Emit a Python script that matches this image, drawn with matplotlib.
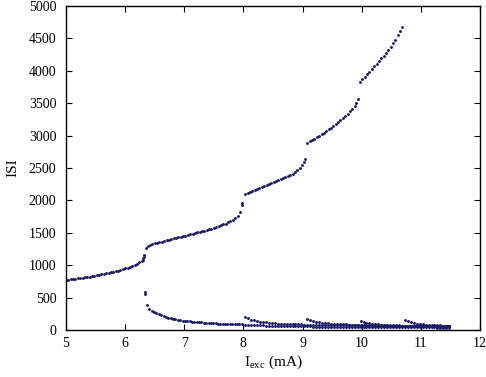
import numpy as np
import matplotlib
matplotlib.use("Agg")
from matplotlib import pyplot as plt

# Upper branch (inter-burst interval)
I_up = [5.00, 5.04, 5.08, 5.12, 5.16, 5.20, 5.24, 5.28, 5.32, 5.36,
        5.40, 5.44, 5.48, 5.52, 5.56, 5.60, 5.64, 5.68, 5.72, 5.76,
        5.80, 5.84, 5.88, 5.92, 5.96, 6.00, 6.04, 6.08, 6.12, 6.16,
        6.20, 6.24, 6.28, 6.31, 6.31, 6.32, 6.32,
        6.35, 6.38, 6.42, 6.46, 6.50, 6.54, 6.58, 6.62, 6.66, 6.70,
        6.74, 6.78, 6.82, 6.86, 6.90, 6.94, 6.98, 7.02, 7.06, 7.10,
        7.14, 7.18, 7.22, 7.26, 7.30, 7.34, 7.38, 7.42, 7.46, 7.50,
        7.54, 7.58, 7.62, 7.66, 7.70, 7.74, 7.78, 7.82, 7.86, 7.90,
        7.94, 7.97, 7.98,
        8.03, 8.07, 8.11, 8.15, 8.19, 8.23, 8.27, 8.31, 8.35, 8.39,
        8.43, 8.47, 8.51, 8.55, 8.59, 8.63, 8.67, 8.71, 8.75, 8.79,
        8.83, 8.87, 8.91, 8.95, 8.99, 9.02, 9.04,
        9.08, 9.12, 9.16, 9.20, 9.24, 9.28, 9.32, 9.36, 9.40, 9.44,
        9.48, 9.52, 9.56, 9.60, 9.64, 9.68, 9.72, 9.76, 9.80, 9.84,
        9.88, 9.91, 9.93,
        9.97, 10.01, 10.05, 10.09, 10.13, 10.17, 10.21, 10.25, 10.29, 10.33,
        10.37, 10.41, 10.45, 10.49, 10.53, 10.57, 10.61, 10.65, 10.68]
ISI_up = [770, 775, 780, 785, 790, 795, 801, 807, 813, 819,
          825, 832, 839, 846, 853, 860, 868, 876, 884, 892,
          900, 909, 918, 928, 939, 950, 963, 977, 992, 1008,
          1025, 1045, 1065, 1080, 1105, 1130, 1155,
          1260, 1290, 1310, 1325, 1335, 1345, 1352, 1365, 1375, 1385,
          1395, 1404, 1413, 1422, 1431, 1440, 1449, 1458, 1468, 1478,
          1487, 1496, 1505, 1515, 1525, 1535, 1545, 1555, 1566, 1577,
          1589, 1601, 1614, 1628, 1643, 1660, 1678, 1700, 1728, 1765,
          1816, 1930, 1955,
          2100, 2114, 2129, 2144, 2159, 2174, 2190, 2206, 2222, 2238,
          2254, 2270, 2286, 2302, 2318, 2334, 2350, 2366, 2379, 2392,
          2412, 2440, 2470, 2505, 2550, 2590, 2640,
          2890, 2910, 2930, 2952, 2975, 2998, 3022, 3046, 3071, 3096,
          3122, 3150, 3178, 3207, 3237, 3268, 3301, 3336, 3374, 3415,
          3462, 3510, 3560,
          3830, 3868, 3908, 3948, 3988, 4029, 4070, 4110, 4150, 4190,
          4232, 4275, 4320, 4370, 4424, 4480, 4545, 4615, 4680]

# First short ISI branch, before the 8 mA step
I_a = [6.33, 6.33, 6.37, 6.41, 6.45, 6.49, 6.53, 6.57, 6.61, 6.65,
       6.69, 6.73, 6.77, 6.81, 6.85, 6.89, 6.93, 6.97, 7.01, 7.05,
       7.09, 7.13, 7.17, 7.21, 7.25, 7.29, 7.33, 7.37, 7.41, 7.45,
       7.49, 7.53, 7.57, 7.61, 7.65, 7.69, 7.73, 7.77, 7.81, 7.85,
       7.89, 7.93, 7.97]
ISI_a = [590, 550, 385, 330, 300, 275, 255, 240, 225, 210,
         198, 188, 180, 172, 165, 158, 152, 146, 141, 137,
         133, 129, 126, 123, 120, 117, 114, 111, 108, 106,
         104, 102, 100, 98, 96, 95, 93, 92, 90, 89,
         88, 87, 86]

# Short ISI branches above 8 mA
I_low = [8.03, 8.08, 8.13, 8.18, 8.23, 8.28, 8.33, 8.38, 8.43, 8.48,
         8.53, 8.58, 8.63, 8.68, 8.73, 8.78, 8.83, 8.88, 8.93, 8.98,
         9.03, 9.08, 9.13, 9.18, 9.23, 9.28, 9.33, 9.38, 9.43, 9.48,
         9.53, 9.58, 9.63, 9.68, 9.73, 9.78, 9.83, 9.88, 9.93, 9.98,
         10.03, 10.08, 10.13, 10.18, 10.23, 10.28, 10.33, 10.38, 10.43, 10.48,
         10.53, 10.58, 10.63, 10.68, 10.73, 10.78, 10.83, 10.88, 10.93, 10.98,
         11.03, 11.08, 11.13, 11.18, 11.23, 11.28, 11.33, 11.38, 11.43, 11.48]
ISI_a2 = [82, 80, 78, 76, 74, 72, 71, 69, 68, 66,
          65, 64, 63, 62, 61, 60, 59, 58, 57, 56,
          55, 55, 54, 53, 53, 52, 52, 51, 51, 50,
          50, 49, 49, 48, 48, 48, 47, 47, 46, 46,
          46, 45, 45, 45, 44, 44, 44, 43, 43, 43,
          42, 42, 42, 42, 41, 41, 41, 40, 40, 40,
          40, 39, 39, 39, 39, 38, 38, 38, 38, 37]
ISI_b = [205, 178, 160, 147, 137, 129, 122, 116, 111, 107,
         103, 100, 97, 95, 93, 91, 89, 88, 86, 85,
         84, 83, 82, 81, 80, 79, 78, 77, 76, 76,
         75, 74, 73, 73, 72, 71, 71, 70, 70, 69,
         69, 68, 68, 67, 67, 66, 66, 65, 65, 64,
         64, 64, 63, 63, 62, 62, 62, 61, 61, 61,
         60, 60, 60, 59, 59, 59, 58, 58, 58, 57]
ISI_c = [170, 150, 136, 126, 118, 111, 106, 101, 97,
         94, 91, 89, 87, 85, 83, 82, 80, 79, 78,
         77, 76, 75, 74, 73, 72, 71, 71, 70, 69,
         69, 68, 68, 67, 66, 66, 65, 65, 64, 64,
         63, 63, 63, 62, 62, 61, 61, 61, 60, 60]
ISI_d = [142, 125, 113, 104, 97, 92, 88, 84, 81, 78, 76,
         74, 72, 71, 69, 68, 67, 66, 65, 64, 63,
         62, 62, 61, 60, 60, 59, 59, 58, 58, 57]
ISI_e = [155, 132, 117, 106, 98, 92,
         87, 83, 80, 77, 75, 73, 71, 69, 68, 67]

plt.rcParams['font.family'] = ['Liberation Serif', 'DejaVu Serif']
plt.rcParams['mathtext.fontset'] = 'custom'
plt.rcParams['mathtext.rm'] = 'Liberation Serif'

fig = plt.figure(figsize=(4.86, 3.77), dpi=100)
ax = fig.add_axes([0.1358, 0.1247, 0.8519, 0.8594])

dot = dict(linestyle='none', marker='o', markersize=2.1,
           color='#1a1a68', markeredgewidth=0)
ax.plot(I_up, ISI_up, **dot)
ax.plot(I_a, ISI_a, **dot)
ax.plot(I_low, ISI_a2, **dot)
ax.plot(I_low, ISI_b, **dot)
ax.plot(I_low[21:], ISI_c, **dot)
ax.plot(I_low[39:], ISI_d, **dot)
ax.plot(I_low[54:], ISI_e, **dot)

ax.set_xlim(5, 12)
ax.set_ylim(0, 5000)
ax.set_xticks(range(5, 13))
ax.set_yticks(range(0, 5001, 500))
ax.tick_params(direction='in', top=True, right=True, length=4,
               width=0.8, labelsize=10)
ax.tick_params(axis='y', pad=7)
ax.tick_params(axis='x', pad=5)
for s in ax.spines.values():
    s.set_linewidth(1.0)
ax.set_xlabel(r'I$_{\rm exc}$ (mA)', fontsize=11, labelpad=3)
ax.set_ylabel('ISI', fontsize=11, labelpad=7)

fig.savefig('out.png', dpi=100)
